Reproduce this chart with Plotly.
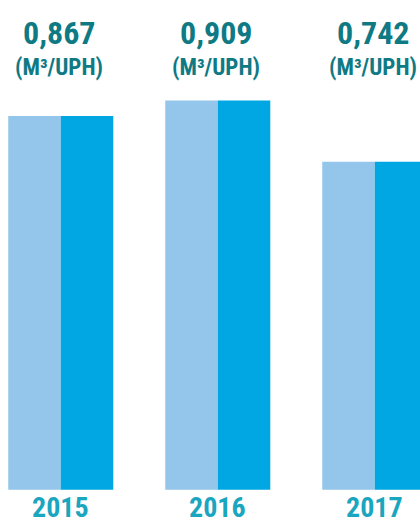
import plotly.graph_objects as go

years = ["2015", "2016", "2017"]
values = [0.867, 0.909, 0.742]
value_labels = ["0,867", "0,909", "0,742"]
unit_label = "(M³/UPH)"

LIGHT = "#94c5ea"
DARK = "#00a7e2"
TEAL = "#0f7a84"
CYAN = "#1aa6bf"
FONT = "Liberation Sans Narrow, Roboto Condensed, DejaVu Sans Condensed, Arial Narrow, sans-serif"

BASE = -0.1525

fig = go.Figure()
fig.add_trace(go.Bar(x=years, y=[v - BASE for v in values], base=BASE,
                     marker=dict(color=LIGHT, line=dict(width=0)), hoverinfo="skip"))
fig.add_trace(go.Bar(x=years, y=[v - BASE for v in values], base=BASE,
                     marker=dict(color=DARK, line=dict(width=0)), hoverinfo="skip"))

ann = []
for i, (yr, lab) in enumerate(zip(years, value_labels)):
    ann.append(dict(x=i, y=0.938, xref="x", yref="paper", text="<b>%s</b>" % lab,
                    showarrow=False, yanchor="middle", xshift=-1,
                    font=dict(family=FONT, size=32, color=TEAL)))
    ann.append(dict(x=i, y=0.8726, xref="x", yref="paper", text="<b>%s</b>" % unit_label,
                    showarrow=False, yanchor="middle", xshift=-2,
                    font=dict(family=FONT, size=23, color=TEAL)))
    ann.append(dict(x=i, y=0, xref="x", yref="paper", text="<b>%s</b>" % yr,
                    showarrow=False, yanchor="bottom",
                    font=dict(family=FONT, size=28, color=CYAN)))

fig.update_layout(
    width=420, height=526,
    margin=dict(l=0, r=0, t=0, b=0),
    paper_bgcolor="white", plot_bgcolor="white",
    barmode="group", bargap=0.331, bargroupgap=0,
    showlegend=False,
    annotations=ann,
    xaxis=dict(type="category", range=[-0.387, 2.288], showticklabels=False,
               showgrid=False, zeroline=False, showline=False, ticks=""),
    yaxis=dict(range=[-0.2515, 1.1833], showticklabels=False, showgrid=False,
               zeroline=False, showline=False, ticks=""),
)

fig.write_html("out.html")
